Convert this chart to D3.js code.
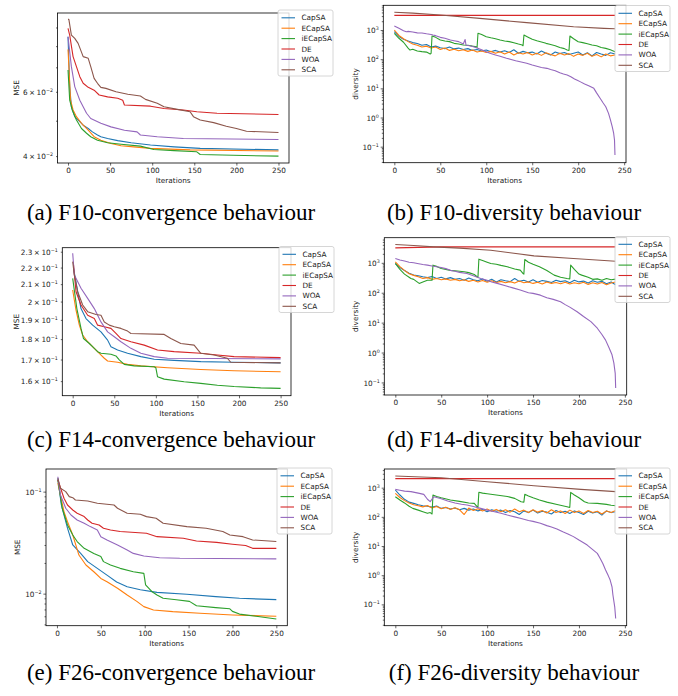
<!DOCTYPE html>
<html>
<head>
<meta charset="utf-8">
<script src="https://d3js.org/d3.v7.min.js"></script>
<style>
body { margin: 0; background: #fff; }
svg text { font-family: "DejaVu Sans", sans-serif; }
.cap { font-family: "Liberation Serif", "Times New Roman", serif; }
</style>
</head>
<body>
<svg width="678" height="696"></svg>
<script>
// algorithms and their matplotlib tab10 colours
const algos = ["CapSA", "ECapSA", "iECapSA", "DE", "WOA", "SCA"];
const colors = ["#1f77b4", "#ff7f0e", "#2ca02c", "#d62728", "#9467bd", "#8c564b"];
const xTicks = [0, 50, 100, 150, 200, 250];
const captions = [
  "(a) F10-convergence behaviour", "(b) F10-diversity behaviour",
  "(c) F14-convergence behaviour", "(d) F14-diversity behaviour",
  "(e) F26-convergence behaviour", "(f) F26-diversity behaviour"
];

// y tick labels: [value, mantissa, exponent]
const f10ConvTicks = [[0.04, "4", "\u22122"], [0.06, "6", "\u22122"]];
const f14ConvTicks = [[0.16, "1.6", "\u22121"], [0.17, "1.7", "\u22121"], [0.18, "1.8", "\u22121"], [0.19, "1.9", "\u22121"],
                      [0.2, "2", "\u22121"], [0.21, "2.1", "\u22121"], [0.22, "2.2", "\u22121"], [0.23, "2.3", "\u22121"]];
const f26ConvTicks = [[0.1, "", "\u22121"], [0.01, "", "\u22122"]];
const divTicks = [[1000, "", "3"], [100, "", "2"], [10, "", "1"], [1, "", "0"], [0.1, "", "\u22121"]];

// convergence curves: [iteration, MSE]
const f10Conv = {
  CapSA: [[0,0.0849],[2,0.062],[4,0.0546],[8,0.0513],[14,0.0497],[18,0.0486],[24,0.0476],[29,0.0466],[35,0.0457],[39,0.0452],[47,0.0447],[59,0.0441],[75,0.0435],[98,0.0429],[126,0.0424],[157,0.042],[250,0.0416]],
  ECapSA: [[0,0.0784],[3,0.0569],[6,0.0535],[10,0.0513],[16,0.0492],[24,0.0471],[31,0.0452],[39,0.0442],[51,0.0433],[63,0.0427],[78,0.0424],[98,0.042],[145,0.0416],[250,0.0413]],
  iECapSA: [[0,0.0688],[2,0.0569],[5,0.0535],[10,0.0502],[16,0.0476],[22,0.0462],[27,0.0452],[35,0.0442],[47,0.0435],[63,0.0431],[86,0.0426],[102,0.0417],[126,0.0414],[153,0.0411],[157,0.0404],[196,0.0402],[250,0.04]],
  DE: [[0,0.0895],[2,0.0858],[6,0.0749],[10,0.0703],[14,0.066],[18,0.0633],[24,0.0617],[31,0.0606],[37,0.0588],[47,0.0581],[59,0.0576],[65,0.0569],[67,0.0552],[98,0.0548],[114,0.054],[137,0.0535],[153,0.0529],[177,0.0524],[250,0.052]],
  WOA: [[0,0.0849],[4,0.0703],[8,0.062],[14,0.0569],[22,0.0524],[27,0.0507],[39,0.0492],[51,0.0481],[67,0.0471],[82,0.0466],[86,0.0457],[106,0.0452],[137,0.0447],[250,0.0444]],
  SCA: [[0,0.0947],[1,0.0947],[4,0.0858],[8,0.084],[12,0.0814],[18,0.0749],[24,0.0741],[27,0.0703],[31,0.0653],[35,0.0633],[39,0.0617],[45,0.0613],[57,0.06],[71,0.0591],[86,0.0584],[92,0.0572],[106,0.0558],[114,0.0546],[130,0.0537],[145,0.0529],[149,0.0513],[157,0.0502],[173,0.0494],[188,0.0483],[200,0.0476],[212,0.0468],[250,0.0464]]
};
const f14Conv = {
  CapSA: [[1,0.2195],[6,0.2056],[10,0.1961],[16,0.1907],[24,0.1872],[34,0.1837],[42,0.1795],[46,0.1762],[54,0.1746],[66,0.173],[82,0.1714],[98,0.1701],[122,0.1696],[154,0.169],[194,0.1687],[250,0.1684]],
  ECapSA: [[0,0.2066],[4,0.1952],[8,0.1872],[12,0.1821],[18,0.1787],[26,0.1754],[32,0.173],[38,0.1706],[42,0.1693],[54,0.1687],[66,0.1677],[82,0.167],[114,0.1661],[154,0.1653],[194,0.1647],[250,0.1643]],
  iECapSA: [[0,0.2134],[5,0.1961],[10,0.1855],[13,0.1803],[20,0.1778],[26,0.1754],[30,0.1738],[34,0.173],[46,0.1725],[52,0.1717],[56,0.1698],[62,0.1677],[74,0.167],[98,0.1666],[100,0.1661],[102,0.162],[110,0.1609],[134,0.1597],[154,0.159],[174,0.1582],[194,0.1576],[226,0.157],[250,0.1568]],
  DE: [[1,0.2216],[4,0.2056],[10,0.1981],[18,0.1925],[26,0.1907],[30,0.1872],[38,0.1864],[46,0.1855],[52,0.1829],[58,0.1803],[70,0.1787],[86,0.177],[102,0.1746],[122,0.1738],[154,0.173],[174,0.1722],[194,0.1714],[250,0.1709]],
  WOA: [[0,0.229],[2,0.2154],[10,0.2076],[18,0.2018],[26,0.1961],[34,0.1889],[42,0.1837],[50,0.1812],[58,0.1787],[70,0.1754],[82,0.173],[98,0.1714],[114,0.1706],[250,0.1703]],
  SCA: [[0,0.2237],[2,0.2154],[6,0.2056],[12,0.1981],[18,0.1944],[28,0.1929],[34,0.1925],[38,0.1889],[44,0.1872],[50,0.1864],[58,0.1855],[66,0.1841],[70,0.1829],[110,0.1824],[118,0.1803],[130,0.1778],[146,0.177],[154,0.173],[170,0.1722],[186,0.1706],[190,0.1687],[250,0.1684]]
};
const f26Conv = {
  CapSA: [[1,0.135],[5,0.074],[12,0.0438],[18,0.03],[27,0.0248],[35,0.0206],[46,0.0177],[57,0.0152],[68,0.013],[80,0.0117],[95,0.0109],[114,0.0103],[148,0.00985],[181,0.00935],[208,0.009],[250,0.00873]],
  ECapSA: [[1,0.121],[8,0.0637],[12,0.0508],[18,0.0376],[25,0.0239],[33,0.0191],[42,0.0164],[50,0.0141],[57,0.0131],[69,0.0113],[80,0.0097],[91,0.0084],[99,0.00746],[110,0.00692],[132,0.00667],[163,0.00642],[200,0.00618],[250,0.006]],
  iECapSA: [[1,0.13],[6,0.0687],[12,0.0471],[18,0.0376],[23,0.0324],[31,0.0278],[42,0.0248],[50,0.0231],[53,0.0206],[61,0.0191],[72,0.0177],[87,0.0164],[99,0.0158],[101,0.0122],[108,0.0105],[114,0.0097],[121,0.009],[136,0.0087],[151,0.0084],[159,0.0076],[181,0.0073],[197,0.0071],[200,0.0067],[208,0.0063],[227,0.006],[250,0.00565]],
  DE: [[1,0.13],[8,0.0861],[12,0.074],[18,0.0661],[23,0.0614],[31,0.0569],[35,0.0527],[40,0.049],[48,0.0471],[53,0.0438],[61,0.0421],[72,0.0406],[102,0.0391],[114,0.0362],[144,0.0349],[159,0.0328],[182,0.0318],[200,0.0305],[215,0.0296],[223,0.0278],[250,0.0278]],
  WOA: [[1,0.14],[4,0.0927],[10,0.0687],[16,0.059],[23,0.0527],[31,0.049],[38,0.0454],[46,0.0421],[50,0.0362],[57,0.0336],[69,0.03],[80,0.0268],[87,0.0248],[99,0.0234],[117,0.0225],[140,0.0222],[250,0.0219]],
  SCA: [[1,0.1352],[4,0.1079],[10,0.1],[14,0.0893],[18,0.0873],[21,0.0828],[35,0.081],[46,0.0769],[65,0.074],[69,0.0687],[80,0.0614],[95,0.06],[102,0.0569],[113,0.0548],[121,0.049],[148,0.0454],[170,0.0438],[189,0.0406],[197,0.0376],[212,0.0362],[223,0.0336],[250,0.0324]]
};

// diversity curves; CapSA / ECapSA are read every 5 iterations, the others as [iteration, diversity]
const f10DivCapSA = [877,600,480,420,370,345,300,320,260,280,245,230,260,225,240,215,230,200,215,190,205,180,200,175,195,170,210,160,185,165,175,150,190,160,140,175,155,170,145,160,175,140,165,130,170,150,135,165,150];
const f10DivECapSA = [1000,650,500,400,330,300,260,280,240,260,215,240,200,220,195,210,185,205,175,190,170,185,160,180,150,175,140,165,150,170,140,160,135,165,145,130,160,140,155,125,150,135,160,125,145,120,150,130,140];
const f10Div = {
  iECapSA: [[0,769],[5,520],[10,380],[15,240],[17,206],[20,220],[25,190],[30,181],[35,175],[39,150],[40,160],[41,623],[45,560],[50,454],[55,420],[60,400],[65,349],[70,330],[75,306],[80,300],[85,280],[89,268],[90,250],[91,769],[95,700],[100,591],[105,540],[110,500],[115,454],[120,420],[125,400],[130,368],[135,330],[139,306],[140,290],[141,674],[145,580],[150,479],[155,430],[160,390],[165,349],[170,320],[175,290],[180,250],[185,230],[188,206],[190,200],[191,623],[195,500],[200,398],[205,370],[210,340],[215,306],[220,290],[225,250],[230,235],[235,210],[240,181]],
  DE: [[0,3185],[240,3185]],
  WOA: [[0,1370],[5,1150],[10,950],[13,877],[15,900],[20,850],[25,800],[30,790],[35,740],[40,700],[42,674],[45,640],[50,560],[55,520],[61,454],[65,430],[70,400],[75,330],[77,470],[78,300],[82,290],[86,268],[90,240],[95,210],[100,180],[104,160],[110,140],[115,125],[122,107],[127,98],[132,88],[138,80],[144,72],[150,63],[155,57],[160,52],[166,48.5],[170,44],[175,40],[180,34],[184,31],[188,28.6],[192,25],[196,21],[199,19],[202,17],[207,14],[212,12],[217,10],[220,7],[224,4.5],[227,3.2],[230,2.35],[233,1.39],[235,0.85],[237,0.485],[238.5,0.3],[239.5,0.17],[240,0.052]],
  SCA: [[0,4040],[20,3800],[50,3270],[93,2510],[144,1785],[195,1300],[228,1140],[240,1100]]
};
const f14DivCapSA = [950,700,550,450,390,370,340,320,350,300,330,290,320,280,300,260,310,270,250,290,240,280,230,270,250,235,300,240,260,230,270,225,255,240,220,260,235,250,215,260,230,245,210,250,225,240,200,230,185];
const f14DivECapSA = [1080,750,560,430,380,340,300,320,280,300,270,290,260,280,250,270,240,260,230,255,225,250,220,240,215,235,210,245,215,230,205,225,195,230,205,220,200,225,195,215,200,225,190,215,195,220,185,210,230];
const f14Div = {
  iECapSA: [[0,950],[5,600],[10,420],[15,330],[17,300],[20,280],[26,205],[30,230],[35,260],[40,264],[41,836],[45,760],[50,647],[60,560],[70,520],[75,501],[80,470],[86,408],[89,341],[90,330],[91,1325],[95,1200],[100,1050],[104,950],[110,900],[115,820],[122,736],[130,620],[136,569],[139,441],[140,420],[141,1290],[145,1050],[150,900],[157,736],[165,550],[173,388],[180,330],[187,300],[190,290],[191,836],[195,600],[200,420],[203,388],[210,330],[215,280],[220,290],[225,260],[230,300],[235,270],[240,285]],
  DE: [[0,3160],[50,3415],[240,3415]],
  WOA: [[0,1395],[5,1250],[10,1150],[15,1050],[20,1000],[24,950],[30,880],[35,836],[40,780],[45,736],[50,700],[55,640],[60,560],[65,520],[70,480],[78,441],[85,370],[93,300],[100,260],[105,230],[111,205],[120,170],[128,145],[136,123],[145,100],[150,95],[158,83],[165,68],[172,60],[180,50],[185,40],[190,33],[198,23],[205,16],[213,10.8],[220,6.5],[225,4],[229,2.6],[233,1.4],[236,0.84],[238,0.45],[239.5,0.2],[240,0.065]],
  SCA: [[0,4080],[20,3800],[42,3415],[70,3100],[104,2640],[151,1710],[194,1395],[240,1135]]
};
const f26DivCapSA = [832,560,400,320,290,260,240,230,215,235,195,210,185,200,175,195,170,185,160,180,150,175,155,170,140,165,150,120,160,140,170,135,155,145,125,165,140,155,130,160,140,120,155,135,150,115,160,140,150];
const f26DivECapSA = [640,460,360,300,260,240,220,245,200,225,190,215,180,205,175,120,200,165,190,160,185,155,180,150,175,145,185,150,170,140,175,145,165,135,175,140,160,130,170,140,160,130,165,140,155,125,160,140,165];
const f26Div = {
  iECapSA: [[0,491],[5,380],[10,300],[15,230],[19,195],[25,170],[30,150],[35,132],[38,140],[40,125],[41,561],[45,500],[50,450],[60,378],[70,340],[80,300],[86,290],[89,223],[90,215],[91,692],[95,650],[100,620],[110,560],[122,500],[130,430],[137,331],[140,320],[141,591],[145,520],[150,450],[157,378],[165,320],[175,270],[187,223],[190,210],[191,692],[195,560],[200,450],[206,331],[210,300],[220,290],[230,268],[235,250],[240,241]],
  DE: [[0,2035],[240,2035]],
  WOA: [[0,877],[5,820],[10,760],[17,731],[25,650],[31,590],[35,400],[38,331],[42,491],[50,420],[57,349],[65,300],[72,270],[78,255],[85,225],[93,195],[100,170],[108,150],[115,132],[122,115],[130,100],[136,89],[145,75],[150,70],[158,60],[165,50],[170,45],[176,38],[183,30],[188,26],[194,21],[200,16],[205,13],[209,10.8],[215,7.5],[220,5.6],[223,3.8],[226,2.5],[229,1.5],[232,0.95],[234,0.68],[236,0.4],[237,0.21],[239,0.08],[240,0.033]],
  SCA: [[0,2510],[50,2200],[100,1605],[151,1170],[202,877],[240,730]]
};
// the 5-iteration samples become [iteration, value] pairs
f10Div.CapSA = f10DivCapSA.map((v, i) => [i * 5, v]);
f10Div.ECapSA = f10DivECapSA.map((v, i) => [i * 5, v]);
f14Div.CapSA = f14DivCapSA.map((v, i) => [i * 5, v]);
f14Div.ECapSA = f14DivECapSA.map((v, i) => [i * 5, v]);
f26Div.CapSA = f26DivCapSA.map((v, i) => [i * 5, v]);
f26Div.ECapSA = f26DivECapSA.map((v, i) => [i * 5, v]);

// layout of the six panels (pixel boxes) and their axis ranges
const panels = [
  {data: f10Conv, box: [57.5, 13, 289, 163], xMax: 250, yDomain: [0.0383, 0.0986], yLabel: "MSE", ticks: f10ConvTicks, legend: [278, 10], labX: 16.7},
  {data: f10Div, box: [383.3, 5.3, 626, 162.7], xMax: 240, yDomain: [Math.pow(10, -1.549), Math.pow(10, 3.847)], yLabel: "diversity", ticks: divTicks, legend: [615, 5.5], labX: 355},
  {data: f14Conv, box: [62.3, 247.7, 291, 395.7], xMax: 250, yDomain: [0.1536, 0.2326], yLabel: "MSE", ticks: f14ConvTicks, legend: [279, 246.5], labX: 16.7},
  {data: f14Div, box: [384.3, 237.7, 626.7, 395], xMax: 240, yDomain: [Math.pow(10, -1.42), Math.pow(10, 3.84)], yLabel: "diversity", ticks: divTicks, legend: [615, 236.5], labX: 355},
  {data: f26Conv, box: [46, 469, 287.3, 625.7], xMax: 250, yDomain: [0.00485, 0.1667], yLabel: "MSE", ticks: f26ConvTicks, legend: [277, 468], labX: 17.3},
  {data: f26Div, box: [384.3, 469, 626.7, 625.7], xMax: 240, yDomain: [Math.pow(10, -1.731), Math.pow(10, 3.64)], yLabel: "diversity", ticks: divTicks, legend: [615, 468], labX: 355}
];
const captionPos = [[171, 220], [514, 220], [171, 447], [514, 447], [171, 680], [514, 680]];

const svg = d3.select("svg");
const fs = 7.3;
const ink = "#222";

function isDecade(v) {
  const l = Math.log10(v);
  return Math.abs(l - Math.round(l)) < 1e-6;
}

panels.forEach(function(p, k) {
  const [x0, y0, x1, y1] = p.box;
  const x = d3.scaleLinear().domain([-0.05 * p.xMax, 1.05 * p.xMax]).range([x0, x1]);
  const y = d3.scaleLog().domain(p.yDomain).range([y1, y0]);
  const g = svg.append("g");

  const line = d3.line().x(d => x(d[0])).y(d => y(d[1]));
  algos.forEach(function(a, i) {
    g.append("path")
      .attr("d", line(p.data[a]))
      .attr("fill", "none")
      .attr("stroke", colors[i])
      .attr("stroke-width", 1.1)
      .attr("stroke-linejoin", "round");
  });

  g.append("rect")
    .attr("x", x0).attr("y", y0)
    .attr("width", x1 - x0).attr("height", y1 - y0)
    .attr("fill", "none").attr("stroke", "#000").attr("stroke-width", 0.8);

  // x axis
  const xa = g.append("g")
    .attr("transform", "translate(0," + y1 + ")")
    .call(d3.axisBottom(x).tickValues(xTicks).tickSize(2.6).tickPadding(2.2).tickFormat(d3.format("d")));
  xa.select(".domain").remove();
  xa.selectAll(".tick line").attr("stroke", "#000").attr("stroke-width", 0.6);
  xa.selectAll(".tick text").attr("font-size", fs).attr("fill", ink).attr("font-family", "DejaVu Sans");

  // y axis (log): labelled ticks plus unlabelled minor ticks
  const labelled = p.ticks.map(t => t[0]);
  const minors = [];
  const lo = Math.floor(Math.log10(p.yDomain[0])), hi = Math.ceil(Math.log10(p.yDomain[1]));
  for (let e = lo; e <= hi; e++) {
    for (let s = 1; s <= 9; s++) {
      const v = s * Math.pow(10, e);
      if (v >= p.yDomain[0] && v <= p.yDomain[1] && !labelled.some(l => Math.abs(l - v) / v < 1e-6)) minors.push(v);
    }
  }
  const ya = g.append("g")
    .attr("transform", "translate(" + x0 + ",0)")
    .call(d3.axisLeft(y).tickValues(labelled.concat(minors)).tickFormat(() => "").tickSizeOuter(0));
  ya.select(".domain").remove();
  ya.selectAll(".tick line")
    .attr("x2", d => isDecade(d) ? -2.6 : -1.5)
    .attr("stroke", "#000").attr("stroke-width", 0.6);
  ya.selectAll(".tick").each(function(d) {
    const t = p.ticks.find(tt => Math.abs(tt[0] - d) / d < 1e-6);
    if (!t) return;
    const txt = d3.select(this).select("text")
      .attr("x", -4.5).attr("dy", "0.35em")
      .attr("font-size", fs).attr("fill", ink).attr("font-family", "DejaVu Sans")
      .attr("text-anchor", "end");
    txt.append("tspan").text((t[1] ? t[1] + "\u2009\u00d7\u200910" : "10"));
    txt.append("tspan").attr("dy", -3).attr("font-size", fs * 0.66).text(t[2]);
  });

  // axis labels
  g.append("text")
    .attr("x", (x0 + x1) / 2).attr("y", y1 + 20)
    .attr("text-anchor", "middle").attr("font-size", fs).attr("fill", ink)
    .text("Iterations");
  g.append("text")
    .attr("transform", "translate(" + p.labX + "," + ((y0 + y1) / 2) + ") rotate(-90)")
    .attr("text-anchor", "middle").attr("dy", "0.35em").attr("font-size", fs).attr("fill", ink)
    .text(p.yLabel);

  // legend
  const [lx, ly] = p.legend;
  const lg = g.append("g");
  lg.append("rect")
    .attr("x", lx).attr("y", ly).attr("width", 55).attr("height", 66).attr("rx", 2)
    .attr("fill", "#fff").attr("fill-opacity", 0.8)
    .attr("stroke", "#ccc").attr("stroke-width", 0.8);
  algos.forEach(function(a, i) {
    const cy = ly + 7.8 + i * 10.4;
    lg.append("line")
      .attr("x1", lx + 3.5).attr("x2", lx + 17).attr("y1", cy).attr("y2", cy)
      .attr("stroke", colors[i]).attr("stroke-width", 1.1);
    lg.append("text")
      .attr("x", lx + 23.5).attr("y", cy).attr("dy", "0.35em")
      .attr("font-size", fs).attr("fill", ink)
      .text(a);
  });

  svg.append("text")
    .attr("class", "cap")
    .attr("x", captionPos[k][0]).attr("y", captionPos[k][1])
    .attr("text-anchor", "middle").attr("font-size", 23).attr("fill", "#000")
    .text(captions[k]);
});
</script>
</body>
</html>
